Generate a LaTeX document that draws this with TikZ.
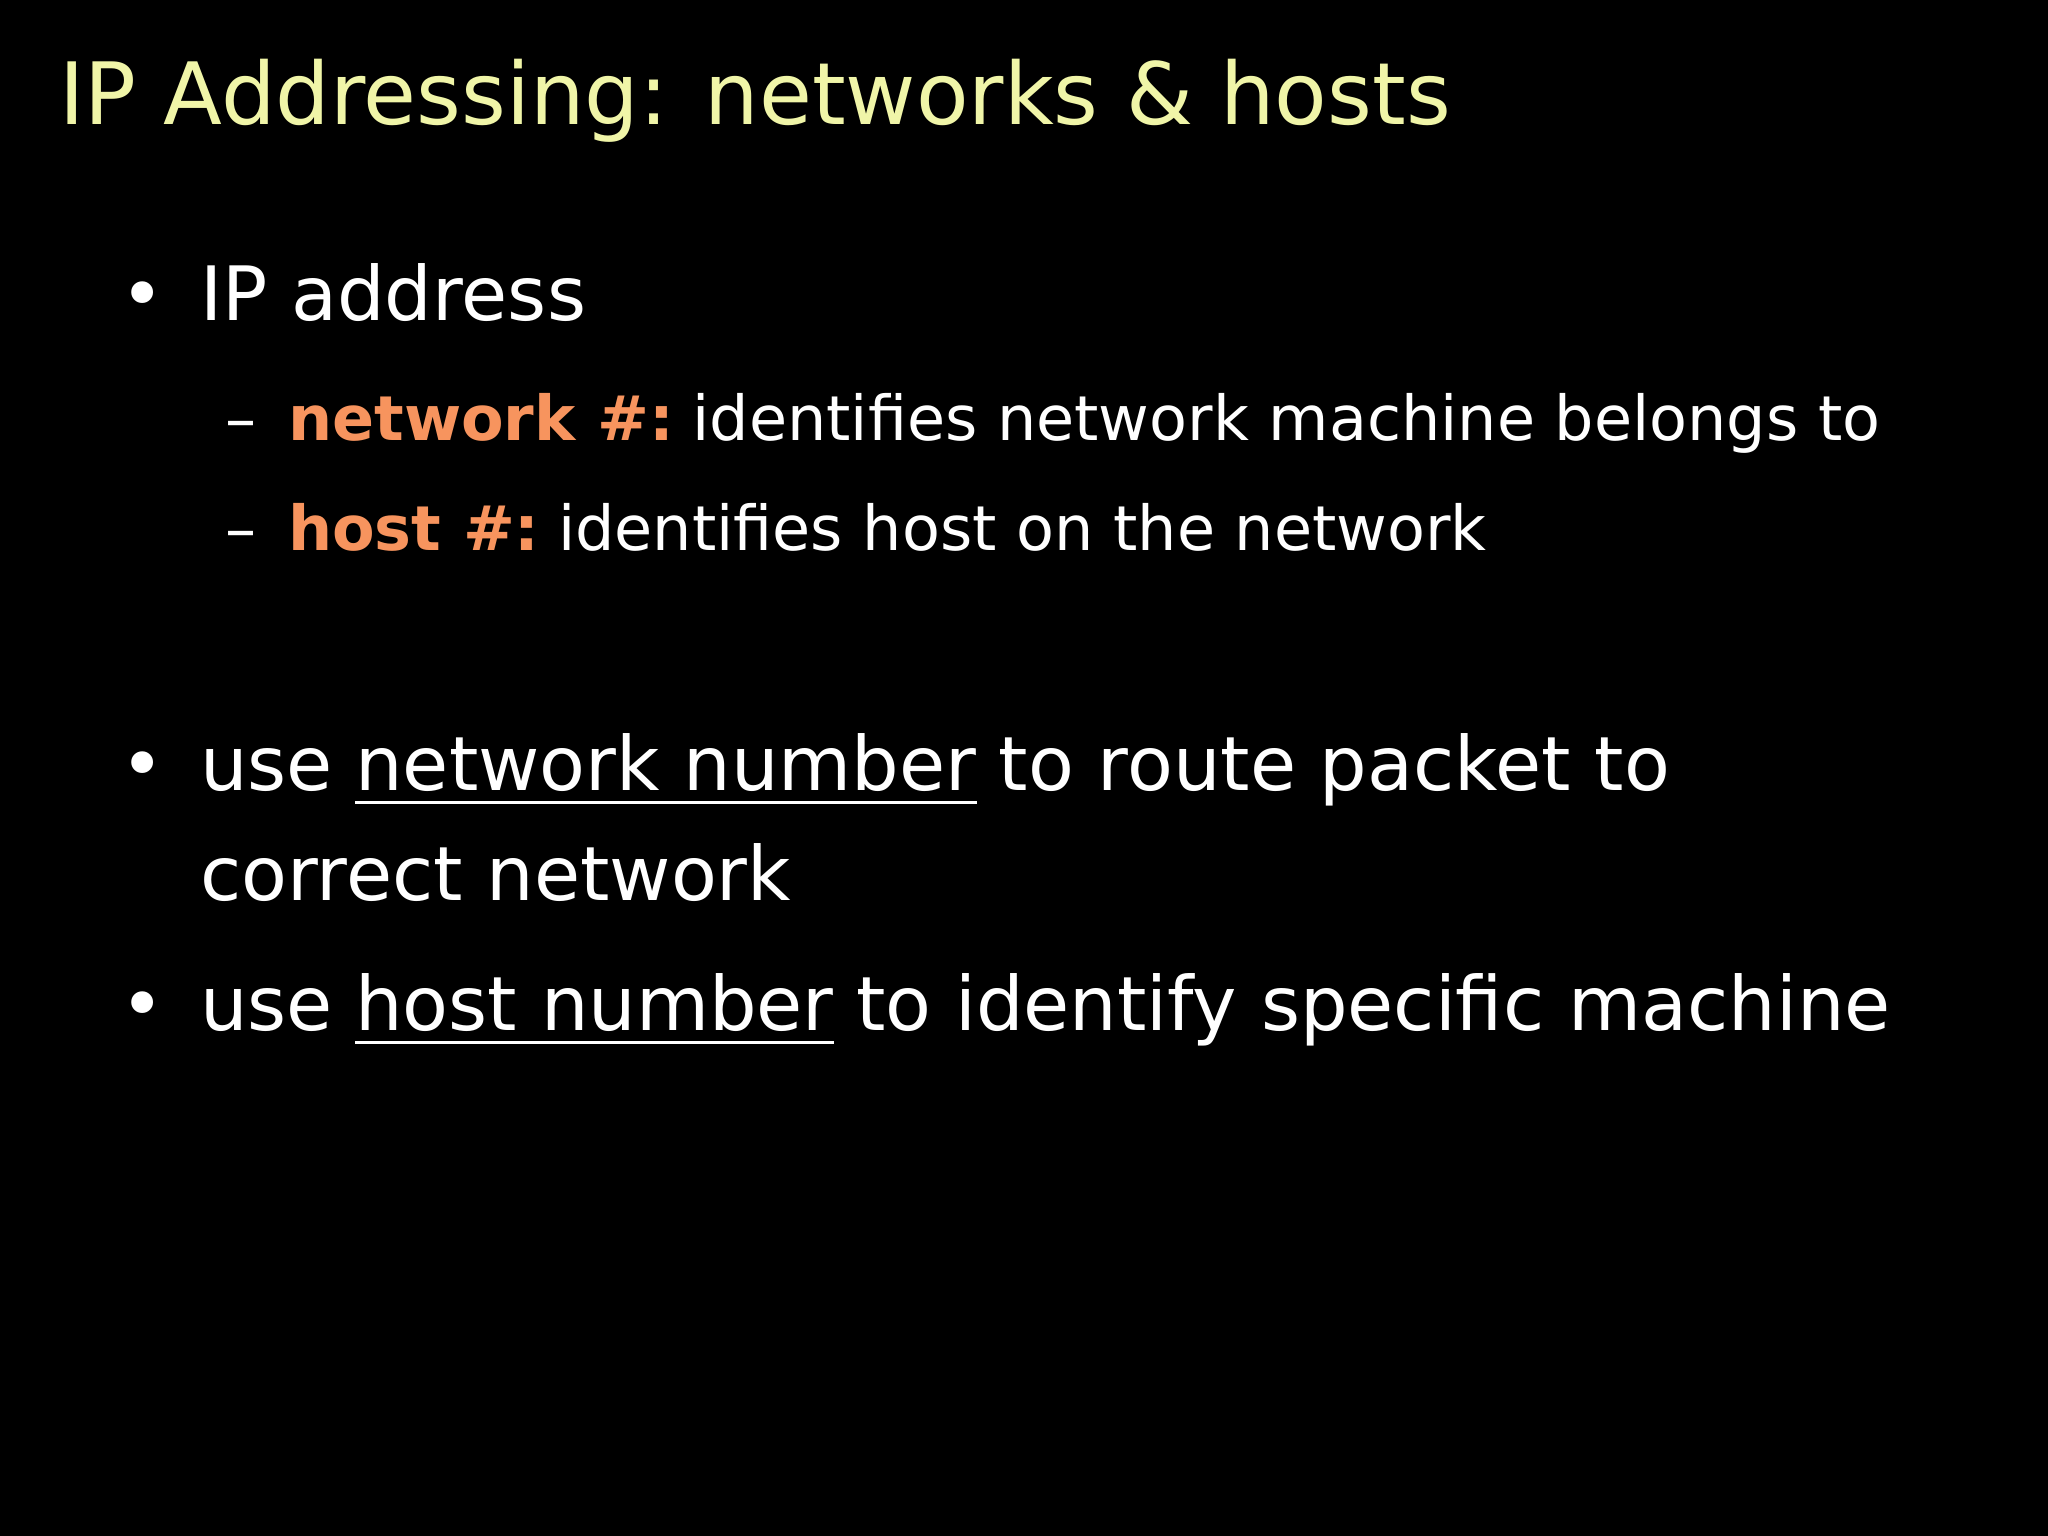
\documentclass[tikz,border=0pt]{standalone}
\usepackage{fontspec}
\setmainfont{DejaVu Sans}
\definecolor{titlec}{HTML}{F0F5A8}
\definecolor{orangec}{HTML}{F7945E}
\begin{document}
\begin{tikzpicture}[x=1pt,y=-1pt,
  txt/.style={anchor=base west,inner sep=0pt,text=white,font=\fontsize{75}{80}\selectfont},
  sub/.style={anchor=base west,inner sep=0pt,text=white,font=\fontsize{62}{68}\selectfont},
  key/.style={anchor=base west,inner sep=0pt,text=orangec,font=\fontsize{62}{68}\selectfont\bfseries},
  ul/.style={white,line width=3pt}]
\fill[black] (0,0) rectangle (2048,1536);
\useasboundingbox (0,0) rectangle (2048,1536);
\node[anchor=base west,inner sep=0pt,text=titlec,font=\fontsize{86}{90}\selectfont] (title) at (59,125) {IP Addressing: networks \& hosts};
\node[txt] (b1) at (120,320) {•};
\node[txt] (t1) at (200,320) {IP address};
\node[sub] (d1) at (225,440) {–};
\node[key] (k1) at (288,440) {network \#:};
\node[sub] (s1) at (k1.base east) {\hspace{18pt}identifies network machine belongs to};
\node[sub] (d2) at (225,550) {–};
\node[key] (k2) at (288,550) {host \#:};
\node[sub] (s2) at (k2.base east) {\hspace{18pt}identifies host on the network};
\node[txt] (b2) at (120,790) {•};
\node[txt] (u1) at (200,790) {use};
\node[txt,xshift=22pt] (n1) at (u1.base east) {network number};
\node[txt,xshift=22pt] (r1) at (n1.base east) {to route packet to};
\node[txt] (c1) at (200,900) {correct network};
\node[txt] (b3) at (120,1030) {•};
\node[txt] (u2) at (200,1030) {use};
\node[txt,xshift=22pt] (n2) at (u2.base east) {host number};
\node[txt,xshift=22pt] (r2) at (n2.base east) {to identify specific machine};
\draw[ul] ([yshift=-12pt]n1.base west) -- ([yshift=-12pt]n1.base east);
\draw[ul] ([yshift=-12pt]n2.base west) -- ([yshift=-12pt]n2.base east);
\end{tikzpicture}
\end{document}
